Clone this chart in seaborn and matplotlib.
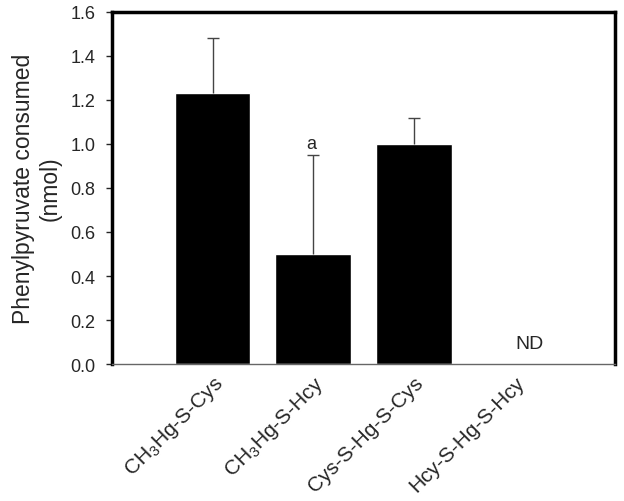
import numpy as np
import pandas as pd
import matplotlib
matplotlib.use('Agg')
import matplotlib.pyplot as plt
import matplotlib.transforms as mtransforms
import seaborn as sns

categories = ['CH$_3$Hg-S-Cys', 'CH$_3$Hg-S-Hcy', 'Cys-S-Hg-S-Cys', 'Hcy-S-Hg-S-Hcy']
consumed = [1.23, 0.50, 1.00, 0.0]
sd_upper = [0.25, 0.45, 0.12, 0.0]
notes = ['', 'a', '', 'ND']

sns.set_style('white')
plt.rcParams['font.family'] = ['Liberation Sans', 'DejaVu Sans']
plt.rcParams['mathtext.fontset'] = 'custom'
plt.rcParams['mathtext.rm'] = 'Liberation Sans'

df = pd.DataFrame({'compound': categories, 'value': consumed})

fig = plt.figure(figsize=(6.24, 5.02), dpi=100)
ax = fig.add_axes([112 / 624, 1 - 365 / 502, 503 / 624, 352 / 502])

sns.barplot(data=df, x='compound', y='value', color='black', width=0.75,
            saturation=1, ax=ax, errorbar=None)

x = np.arange(len(categories))
# upper-only error bars
eb = ax.errorbar(x[:3], consumed[:3], yerr=[np.zeros(3), sd_upper[:3]], fmt='none',
                 ecolor='#444444', elinewidth=1, capsize=4, capthick=1)
eb[1][0].set_visible(False)

for xi, v, s, n in zip(x, consumed, sd_upper, notes):
    if n == 'a':
        ax.text(xi - 0.02, v + s + 0.015, n, ha='center', va='bottom', fontsize=13)
    elif n == 'ND':
        ax.text(xi + 0.15, 0.055, n, ha='center', va='bottom', fontsize=14)

ax.set_xlim(-1, 4)
ax.set_ylim(0, 1.6)
yt = np.arange(0, 1.61, 0.2)
ax.set_yticks(yt)
ax.set_yticklabels([f'{t:.1f}' for t in yt], fontsize=13)
ax.set_xticks(x)
ax.set_xticklabels(categories, rotation=45, ha='right', rotation_mode='anchor', fontsize=15)
offset = mtransforms.ScaledTranslation(12 / 100, 0, fig.dpi_scale_trans)
for lab in ax.get_xticklabels():
    lab.set_transform(lab.get_transform() + offset)
ax.tick_params(axis='y', direction='out', length=4, width=1, left=True, pad=8)
ax.tick_params(axis='x', length=0, pad=6)
ax.set_xlabel('')
ax.set_ylabel('Phenylpyruvate consumed\n(nmol)', fontsize=16.5, labelpad=6)

for side in ['left', 'top', 'right']:
    ax.spines[side].set_linewidth(2.5)
    ax.spines[side].set_color('black')
ax.spines['bottom'].set_linewidth(1)
ax.spines['bottom'].set_color('#666666')

fig.savefig('out.png', dpi=100)
